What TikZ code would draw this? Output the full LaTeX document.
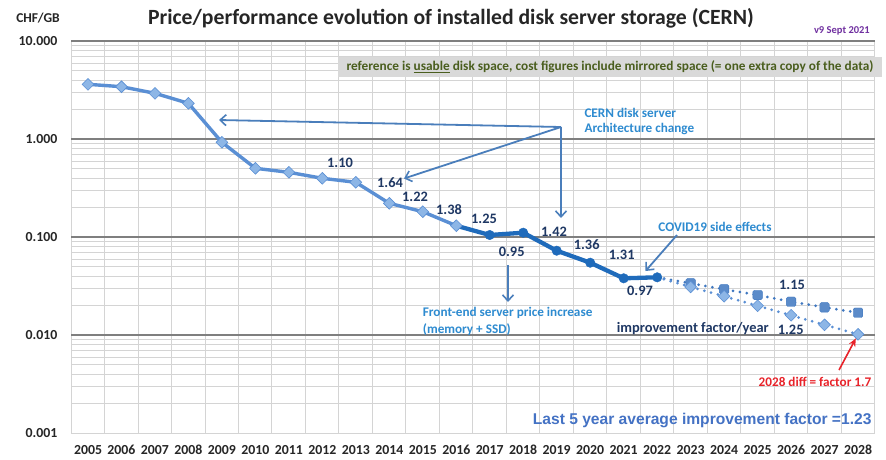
\documentclass[tikz,border=0pt]{standalone}
\usepackage{fontspec}
\setmainfont{Carlito}
\newfontfamily\arialf{Liberation Sans}
\usetikzlibrary{arrows.meta,shapes.geometric}
\definecolor{gridc}{HTML}{D4D4D4}
\definecolor{majc}{HTML}{7F7F7F}
\definecolor{sone}{HTML}{5A8FD4}
\definecolor{sonef}{HTML}{8DB6E6}
\definecolor{stwo}{HTML}{1F6BBB}
\definecolor{sqc}{HTML}{3E77C0}
\definecolor{annc}{HTML}{4A7EBB}
\definecolor{anntext}{HTML}{2E8BD0}
\definecolor{numc}{HTML}{1F3864}
\definecolor{redc}{HTML}{E8232A}
\definecolor{notebg}{HTML}{D9D9D9}
\definecolor{notetx}{HTML}{4A5E1E}
\definecolor{purp}{HTML}{7030A0}
\definecolor{lastc}{HTML}{4472C4}
\definecolor{axtx}{HTML}{262626}
\tikzset{
  gridline/.style={draw=gridc, line width=0.8pt},
  majorline/.style={draw=majc, line width=1.8pt},
  yearlab/.style={font=\bfseries\fontsize{13.8}{14}\selectfont, text=axtx, inner sep=0pt},
  ylab/.style={font=\bfseries\fontsize{13.8}{14}\selectfont, text=axtx, inner sep=0pt, anchor=east},
  numlab/.style={font=\bfseries\fontsize{14.4}{15}\selectfont, text=numc, inner sep=0pt},
  anntx/.style={font=\bfseries\fontsize{13.2}{16}\selectfont, text=anntext, inner sep=0pt, align=left},
  annarrow/.style={draw=annc, line width=1.8pt, -{Straight Barb[length=6pt,width=11pt,line width=1.6pt]}},
  sonel/.style={draw=sone, line width=3.4pt, line join=round},
  stwol/.style={draw=stwo, line width=4.3pt, line join=round},
  sqline/.style={draw=sqc, line width=3pt, line cap=round, dash pattern=on 0pt off 7pt},
  dmline/.style={draw=sone, line width=3pt, line cap=round, dash pattern=on 0pt off 7pt},
  dmark/.style={diamond, fill=sonef, draw=sone, line width=0.6pt, minimum size=12pt, inner sep=0pt},
  cmark/.style={circle, fill=stwo, draw=stwo, minimum size=9.5pt, inner sep=0pt},
  smark/.style={rectangle, rounded corners=1.5pt, fill=sqc!85, draw=sqc, minimum size=9.5pt, inner sep=0pt},
}
\begin{document}
\begin{tikzpicture}[x=1pt,y=-1pt]
\useasboundingbox (0,0) rectangle (886,459);
\fill[white] (0,0) rectangle (886,459);
% grid
\foreach \k in {0,...,24} \draw[gridline] ({71+\k*33.478},41.3) -- ({71+\k*33.478},433.3);
\foreach \d in {0,1,2,3} {
  \foreach \m in {2,...,9} \draw[gridline] (71,{433.3-98*\d-98*log10(\m)}) -- (874.5,{433.3-98*\d-98*log10(\m)});
}
\draw[gridline] (71,433.3) -- (874.5,433.3);
\foreach \yy in {41.3,139.3,237.3,335.3} \draw[majorline] (71,\yy) -- (874.5,\yy);
% note box
\node[fill=notebg, minimum width=544pt, minimum height=20pt, inner sep=0pt] (note) at (610,67)
  {\color{notetx}\bfseries\fontsize{13.3}{14}\selectfont reference is \underline{usable} disk space, cost figures include mirrored space (= one extra copy of the data)};
% axis labels
\foreach \yy/\t [count=\i] in {41.3/10.000,139.3/1.000,237.3/0.100,335.3/0.010,433.3/0.001} \node[ylab] (yl\i) at (57.5,\yy) {\t};
\foreach \yr [count=\i from 0] in {2005,...,2028} \node[yearlab] (yr\yr) at ({88+\i*33.478},450) {\yr};
% titles
\node[font=\bfseries\fontsize{13.5}{14}\selectfont, text=axtx] (unit) at (38,18) {CHF/GB};
\node[font=\bfseries\fontsize{21.7}{22}\selectfont, text=axtx] (title) at (451,18) {Price/performance evolution of installed disk server storage (CERN)};
\node[font=\bfseries\fontsize{10.5}{11}\selectfont, text=purp, anchor=east, inner sep=0pt] (ver) at (870,31) {v9 Sept 2021};
% data coordinates
\foreach \x/\y [count=\i] in {88/84.3,121.5/86.7,155/93.3,188.4/103.3,221.9/142.3,255.4/168.3,288.9/172.3,322.3/178.3,355.8/182.3,389.3/203.3,422.8/211.7,456.3/225.7}
  \coordinate (a\i) at (\x,\y);
\foreach \x/\y [count=\i] in {489.7/235,523.2/232.7,556.7/250.7,590.2/262.7,623.7/278.3,657.2/277.3}
  \coordinate (b\i) at (\x,\y);
\foreach \x/\y [count=\i] in {690.6/283.3,724.1/289.3,757.6/295,791.1/301.7,824.5/307.3,858/312.7}
  \coordinate (c\i) at (\x,\y);
\foreach \x/\y [count=\i] in {690.6/286.9,724.1/296.3,757.6/305.8,791.1/315.3,824.5/324.8,858/334.3}
  \coordinate (d\i) at (\x,\y);
% lines
\draw[sqline] (b6) -- (c1) -- (c2) -- (c3) -- (c4) -- (c5) -- (c6);
\draw[dmline] (b6) -- (d1) -- (d2) -- (d3) -- (d4) -- (d5) -- (d6);
\draw[sonel] (a1) \foreach \i in {2,...,12} {-- (a\i)};
\draw[stwol] (a12) \foreach \i in {1,...,6} {-- (b\i)};
% markers
\foreach \i in {1,...,12} \node[dmark] (ma\i) at (a\i) {};
\foreach \i in {1,...,6} \node[cmark] (mb\i) at (b\i) {};
\foreach \i in {1,...,6} \node[smark] (mc\i) at (c\i) {};
\foreach \i in {1,...,6} \node[dmark] (md\i) at (d\i) {};
% factor labels
\node[numlab] (f1) at (340,162.7) {1.10};
\node[numlab] (f2) at (390,182.7) {1.64};
\node[numlab] (f3) at (415,197.3) {1.22};
\node[numlab] (f4) at (449,210) {1.38};
\node[numlab] (f5) at (484,219.3) {1.25};
\node[numlab] (f6) at (511.7,252.3) {0.95};
\node[numlab] (f7) at (554,231.7) {1.42};
\node[numlab] (f8) at (586.7,245) {1.36};
\node[numlab] (f9) at (621.7,255) {1.31};
\node[numlab] (f10) at (640,290.7) {0.97};
\node[numlab] (f11) at (792,285) {1.15};
\node[numlab] (f12) at (790.7,330) {1.25};
\node[numlab, anchor=west] (impf) at (616.7,328.3) {improvement factor/year};
% annotations
\node[anntx, anchor=west] (cern1) at (584.3,113.3) {CERN disk server};
\node[anntx, anchor=west] (cern2) at (584.3,129.3) {Architecture change};
\coordinate (J) at (561,127);
\coordinate (T1) at (219,120);
\coordinate (T2) at (404,178.5);
\coordinate (T3) at (561,218);
\draw[annarrow] (J) -- (T1);
\draw[annarrow] (J) -- (T2);
\draw[annarrow] (J) -- (T3);
\node[anntx] (covid) at (715,226.7) {COVID19 side effects};
\coordinate (CS) at (677,235);
\coordinate (CE) at (645.5,271);
\draw[annarrow] (CS) -- (CE);
\node[anntx, anchor=west] (fe1) at (422.7,312.7) {Front-end server price increase};
\node[anntx, anchor=west] (fe2) at (422.7,329.3) {(memory + SSD)};
\coordinate (FS) at (508,265);
\coordinate (FE) at (508,302);
\draw[annarrow] (FS) -- (FE);
\node[font=\bfseries\fontsize{13.2}{14}\selectfont, text=redc, inner sep=0pt] (diff) at (815,381.7) {2028 diff = factor 1.7};
\coordinate (RS) at (839,370);
\draw[draw=redc, line width=1.6pt, -{Stealth[length=8pt,width=7pt]}] (RS) -- (md6);
\node[font=\arialf\bfseries\fontsize{15.6}{16}\selectfont, text=lastc, anchor=east, inner sep=0pt] (last) at (871.7,420.7) {Last 5 year average improvement factor =1.23};
\end{tikzpicture}
\end{document}
